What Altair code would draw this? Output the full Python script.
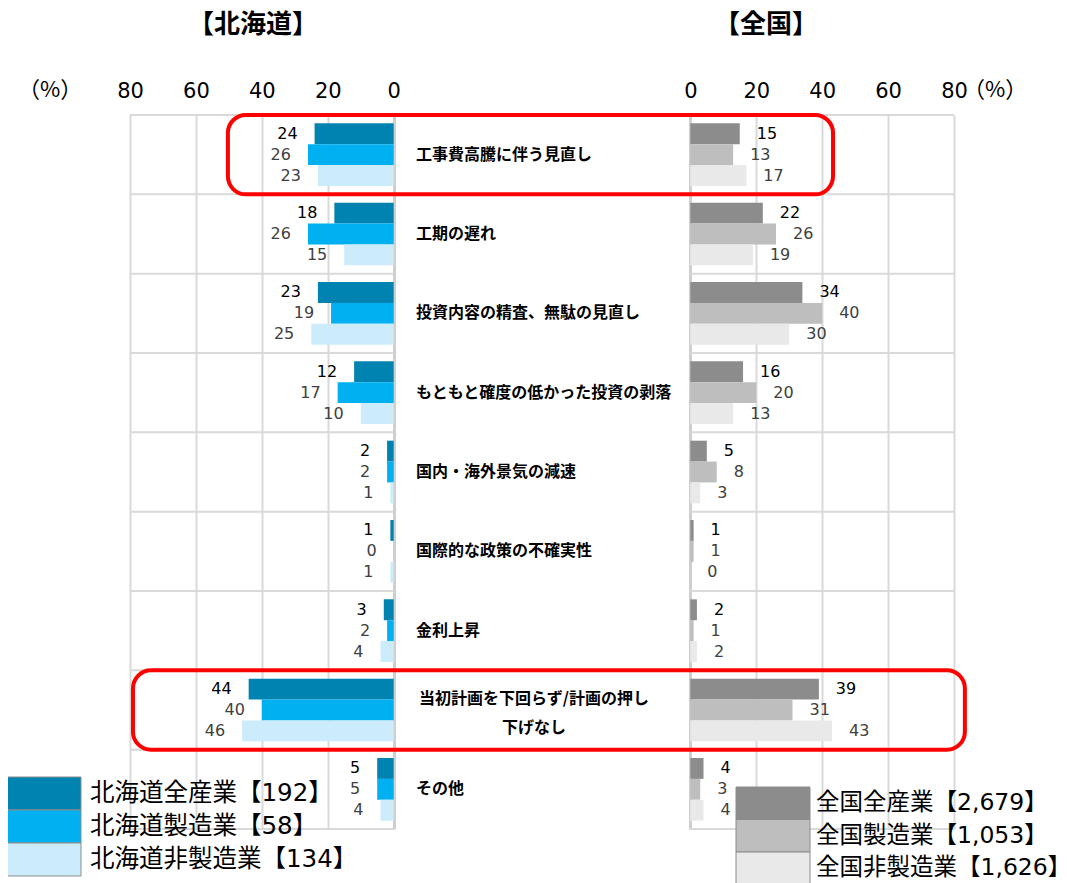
import altair as alt
import pandas as pd

# ---------------- data ----------------
categories = [
    "工事費高騰に伴う見直し",
    "工期の遅れ",
    "投資内容の精査、無駄の見直し",
    "もともと確度の低かった投資の剥落",
    "国内・海外景気の減速",
    "国際的な政策の不確実性",
    "金利上昇",
    "当初計画を下回らず/計画の押し下げなし",
    "その他",
]
two_line_category = "当初計画を下回らず/計画の押し下げなし"
two_line_text = "当初計画を下回らず/計画の押し\n下げなし"

hokkaido_series = ["北海道全産業【192】", "北海道製造業【58】", "北海道非製造業【134】"]
national_series = ["全国全産業【2,679】", "全国製造業【1,053】", "全国非製造業【1,626】"]

hokkaido_all = [24, 18, 23, 12, 2, 1, 3, 44, 5]
hokkaido_mfg = [26, 26, 19, 17, 2, 0, 2, 40, 5]
hokkaido_non = [23, 15, 25, 10, 1, 1, 4, 46, 4]
national_all = [15, 22, 34, 16, 5, 1, 2, 39, 4]
national_mfg = [13, 26, 40, 20, 8, 1, 1, 31, 3]
national_non = [17, 19, 30, 13, 3, 0, 2, 43, 4]

highlighted = ["工事費高騰に伴う見直し", "当初計画を下回らず/計画の押し下げなし"]

hokkaido_colors = ["#0083B1", "#00B0F0", "#CCECFC"]
national_colors = ["#8C8C8C", "#BEBEBE", "#E9E9E9"]

# ---------------- tables ----------------
rows = []
for region, names, lists in [
    ("北海道", hokkaido_series, [hokkaido_all, hokkaido_mfg, hokkaido_non]),
    ("全国", national_series, [national_all, national_mfg, national_non]),
]:
    for j, (name, vals) in enumerate(zip(names, lists)):
        for cat, v in zip(categories, vals):
            rows.append({"region": region, "series": name, "idx": j, "cat": cat, "value": v})
df = pd.DataFrame(rows)
cat_df = pd.DataFrame({"cat": categories})
one = pd.DataFrame({"k": [0]})

GAP = 90  # distance (in axis units) between the two zero lines
W, H = 824, 714
LEFT, TOP = 130, 115  # plot origin on the page (incl. 8px margin)

xs = alt.Scale(domain=[-80, 80 + GAP], nice=False, zero=False)
x_axis = alt.Axis(
    orient="top",
    values=[-80, -60, -40, -20, 0, GAP, GAP + 20, GAP + 40, GAP + 60, GAP + 80],
    labelExpr=f"datum.value <= 0 ? abs(datum.value) : datum.value - {GAP}",
    labelFont="DejaVu Sans",
    labelFontSize=21,
    labelColor="#000000",
    labelPadding=14,
    labelFlush=False,
    labelOverlap=False,
    labelBound=False,
    ticks=False,
    domain=False,
    grid=True,
    gridColor={"condition": {"test": f"datum.value == 0 || datum.value == {GAP}", "value": "#cfcfcf"},
               "value": "#d9d9d9"},
    gridWidth={"condition": {"test": f"datum.value == 0 || datum.value == {GAP}", "value": 3},
               "value": 2},
    title=None,
)
ys = alt.Scale(type="band", domain=categories, paddingInner=0, paddingOuter=0)
yoff = alt.Scale(domain=[0, 1, 2], paddingInner=0, paddingOuter=0.4)

def Y(**kw):
    return alt.Y("cat:N", scale=ys, axis=None, **kw)

def XD(v):
    return alt.XDatum(datum=v, type="quantitative", scale=xs, axis=x_axis)

def X2D(v):
    return alt.X2Datum(datum=v)

CJK = "Noto Sans CJK JP"
MIX = "DejaVu Sans, Noto Sans CJK JP"

# horizontal separators (only in the two panels)
sep_layers = []
for bp, data in [(0, cat_df), (1, cat_df[cat_df.cat == categories[-1]])]:
    for a, b in [(-80, 0), (GAP, GAP + 80)]:
        sep_layers.append(
            alt.Chart(data).mark_rule(color="#d9d9d9", strokeWidth=2).encode(
                y=Y(bandPosition=bp), x=XD(a), x2=X2D(b)
            )
        )

bars = (
    alt.Chart(df)
    .transform_calculate(
        xa=f"datum.region == '北海道' ? -datum.value : {GAP}",
        xb=f"datum.region == '北海道' ? 0 : {GAP} + datum.value",
    )
    .mark_bar()
    .encode(
        y=Y(),
        yOffset=alt.YOffset("idx:O", scale=yoff),
        x=alt.X("xa:Q", scale=xs, axis=x_axis),
        x2="xb:Q",
        color=alt.Color(
            "series:N",
            scale=alt.Scale(domain=hokkaido_series + national_series,
                            range=hokkaido_colors + national_colors),
            legend=None,
        ),
    )
)

label_color = alt.condition("datum.idx == 0", alt.value("#000000"), alt.value("#404040"))

labels_left = (
    alt.Chart(df)
    .transform_filter("datum.region == '北海道'")
    .transform_calculate(xt="-datum.value")
    .mark_text(align="right", baseline="middle", dx=-17, font="DejaVu Sans", fontSize=16)
    .encode(
        y=Y(), yOffset=alt.YOffset("idx:O", scale=yoff),
        x=alt.X("xt:Q", scale=xs, axis=x_axis),
        text="value:Q", color=label_color,
    )
)
labels_right = (
    alt.Chart(df)
    .transform_filter("datum.region == '全国'")
    .transform_calculate(xt=f"{GAP} + datum.value")
    .mark_text(align="left", baseline="middle", dx=17, font="DejaVu Sans", fontSize=16)
    .encode(
        y=Y(), yOffset=alt.YOffset("idx:O", scale=yoff),
        x=alt.X("xt:Q", scale=xs, axis=x_axis),
        text="value:Q", color=label_color,
    )
)

cat_labels = (
    alt.Chart(cat_df[cat_df.cat != two_line_category])
    .mark_text(align="left", baseline="middle", font=CJK, fontWeight="bold", fontSize=16, color="#000000")
    .encode(y=Y(), x=alt.value(416 - LEFT), text="cat:N")
)
cat_label_2 = (
    alt.Chart(cat_df[cat_df.cat == two_line_category])
    .mark_text(align="center", baseline="middle", font=CJK, fontWeight="bold", fontSize=16,
               color="#000000", lineBreak="\n", lineHeight=29, dy=-11, text=two_line_text)
    .encode(y=Y(), x=alt.value(534 - LEFT))
)

boxes = []
for cat, (a, b) in zip(highlighted, [(-50.3, GAP + 43.3), (-79.1, GAP + 83.3)]):
    boxes.append(
        alt.Chart(cat_df[cat_df.cat == cat])
        .mark_rect(fillOpacity=0, stroke="#FF0000", strokeWidth=4, cornerRadius=18)
        .encode(y=Y(), x=XD(a), x2=X2D(b))
    )

def txt(text, px, py, size, weight="normal", align="center", font=CJK):
    return alt.Chart(one).mark_text(
        text=text, align=align, baseline="middle", font=font, fontSize=size,
        fontWeight=weight, color="#000000"
    ).encode(x=alt.value(px - LEFT), y=alt.value(py - TOP))

extras = [
    txt("【北海道】", 253, 25, 26, "bold"),
    txt("【全国】", 766, 25, 26, "bold"),
    txt("（%）", 50, 90, 22),
    txt("（%）", 995, 90, 22),
]

legend_layers = []
for i, (name, col) in enumerate(zip(hokkaido_series, hokkaido_colors)):
    y0 = 777 + 33 * i
    legend_layers.append(
        alt.Chart(one).mark_rect(fill=col, stroke="#8c8c8c", strokeWidth=1).encode(
            x=alt.value(7 - LEFT), x2=alt.value(81 - LEFT),
            y=alt.value(y0 - TOP), y2=alt.value(y0 + 33 - TOP),
        )
    )
    legend_layers.append(txt(name, 90, y0 + 17, 24.5, align="left", font=MIX))
for i, (name, col) in enumerate(zip(national_series, national_colors)):
    y0 = 787 + 32.5 * i
    legend_layers.append(
        alt.Chart(one).mark_rect(fill=col, stroke="#8c8c8c", strokeWidth=1).encode(
            x=alt.value(736 - LEFT), x2=alt.value(810 - LEFT),
            y=alt.value(y0 - TOP), y2=alt.value(y0 + 32.5 - TOP),
        )
    )
    legend_layers.append(txt(name, 816, y0 + 16, 23.5, align="left", font=MIX))

chart = (
    alt.layer(*sep_layers, bars, labels_left, labels_right, cat_labels, cat_label_2,
              *boxes, *extras, *legend_layers)
    .properties(
        width=W, height=H,
        autosize=alt.AutoSizeParams(type="none"),
        padding={"left": LEFT - 8, "top": TOP - 8, "right": 1051 - (LEFT - 8) - W,
                 "bottom": 883 - TOP - H + 4},
        background="#ffffff",
    )
    .configure_view(stroke=None)
)

chart.save("out.html", embed_options={"renderer": "svg", "actions": False})
